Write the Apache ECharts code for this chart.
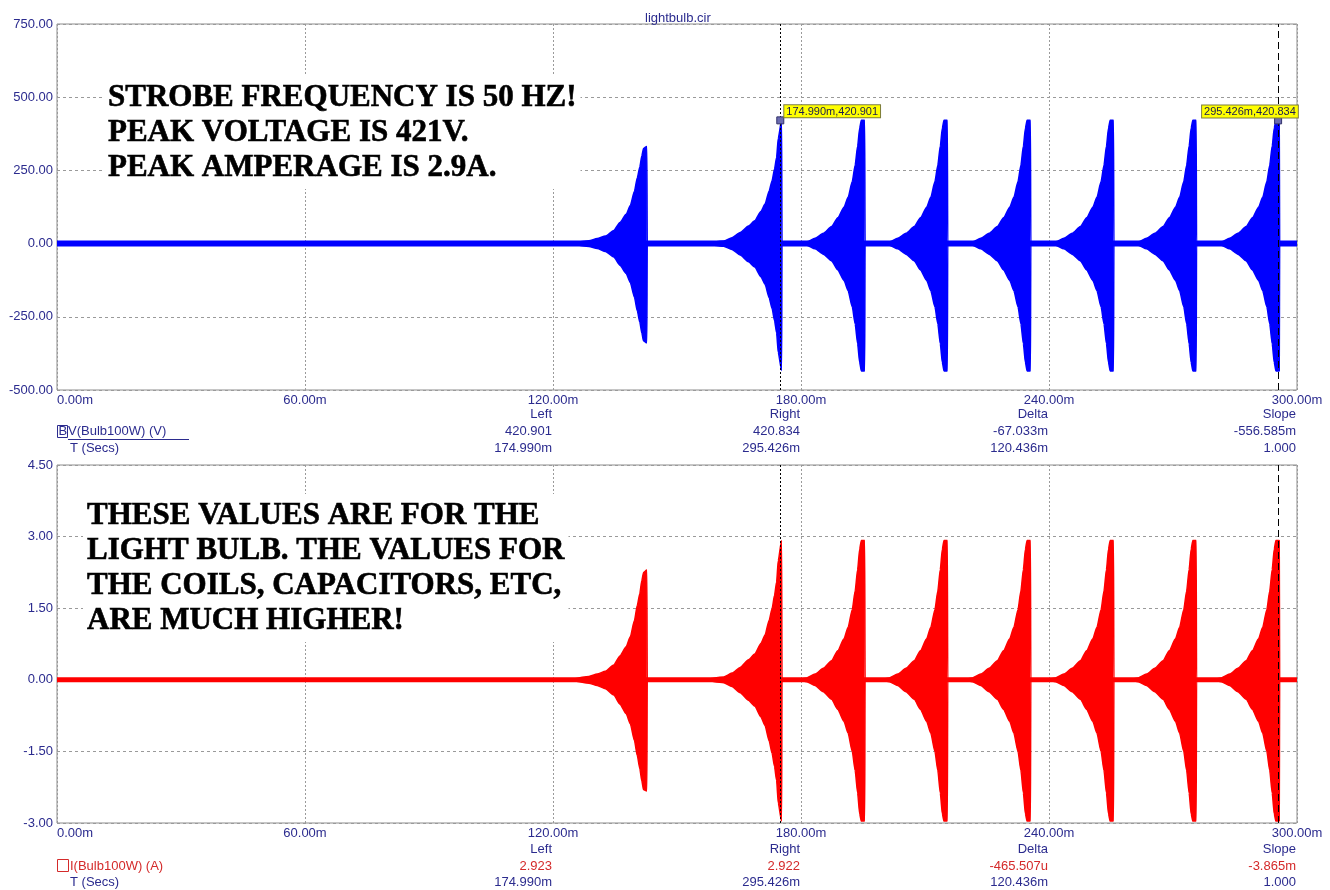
<!DOCTYPE html>
<html>
<head>
<meta charset="utf-8">
<script src="https://cdn.jsdelivr.net/npm/echarts@6/dist/echarts.min.js"></script>
<style>
  html, body { margin: 0; padding: 0; background: #fff; }
  #chart { width: 1330px; height: 890px; }
</style>
</head>
<body>
<div id="chart"></div>
<script>
// time points (ms) of the burst envelopes, 8 bursts, 15 points each
const envTime = [
  124.0, 128.7, 130.7, 132.7, 134.7, 136.2, 137.7, 138.7, 139.7, 140.4, 141.0, 141.5, 141.9, 142.7, 142.8,
  155.8, 161.3, 163.3, 165.3, 167.3, 168.8, 170.3, 171.3, 172.3, 173.0, 173.6, 174.1, 174.5, 175.3, 175.4,
  179.4, 181.4, 183.4, 185.4, 187.4, 188.9, 190.4, 191.4, 192.4, 193.1, 193.7, 194.2, 194.6, 195.4, 195.5,
  199.4, 201.4, 203.4, 205.4, 207.4, 208.9, 210.4, 211.4, 212.4, 213.1, 213.7, 214.2, 214.6, 215.4, 215.5,
  219.5, 221.5, 223.5, 225.5, 227.5, 229.0, 230.5, 231.5, 232.5, 233.2, 233.8, 234.3, 234.7, 235.5, 235.6,
  239.6, 241.6, 243.6, 245.6, 247.6, 249.1, 250.6, 251.6, 252.6, 253.3, 253.9, 254.4, 254.8, 255.6, 255.7,
  259.6, 261.6, 263.6, 265.6, 267.6, 269.1, 270.6, 271.6, 272.6, 273.3, 273.9, 274.4, 274.8, 275.6, 275.7,
  279.7, 281.7, 283.7, 285.7, 287.7, 289.2, 290.7, 291.7, 292.7, 293.4, 294.0, 294.5, 294.9, 295.7, 295.8
];
const voltUpper = [
  0, 10, 17, 26, 45, 72, 100, 130, 179, 225, 262, 300, 325, 332, 0,
  0, 9, 20, 38, 60, 78, 110, 135, 180, 215, 255, 295, 360, 421, 0,
  0, 6, 18, 35, 58, 88, 124, 158, 212, 268, 333, 395, 421, 421, 0,
  0, 6, 18, 35, 58, 88, 124, 158, 212, 268, 333, 395, 421, 421, 0,
  0, 6, 18, 35, 58, 88, 124, 158, 212, 268, 333, 395, 421, 421, 0,
  0, 6, 18, 35, 58, 88, 124, 158, 212, 268, 333, 395, 421, 421, 0,
  0, 6, 18, 35, 58, 88, 124, 158, 212, 268, 333, 395, 421, 421, 0,
  0, 6, 18, 35, 58, 88, 124, 158, 212, 268, 333, 395, 421, 421, 0
];
const voltLower = [
  0, -10, -17, -27, -46, -74, -102, -133, -183, -230, -268, -306, -332, -339, 0,
  0, -9, -20, -39, -62, -80, -113, -139, -185, -222, -263, -305, -372, -433, 0,
  0, -6, -18, -36, -59, -90, -126, -161, -216, -274, -342, -406, -435, -435, 0,
  0, -6, -18, -36, -59, -90, -126, -161, -216, -274, -342, -406, -435, -435, 0,
  0, -6, -18, -36, -59, -90, -126, -161, -216, -274, -342, -406, -435, -435, 0,
  0, -6, -18, -36, -59, -90, -126, -161, -216, -274, -342, -406, -435, -435, 0,
  0, -6, -18, -36, -59, -90, -126, -161, -216, -274, -342, -406, -435, -435, 0,
  0, -6, -18, -36, -59, -90, -126, -161, -216, -274, -342, -406, -435, -435, 0
];
const ampUpper = [
  0, 0.07, 0.12, 0.18, 0.31, 0.5, 0.69, 0.9, 1.24, 1.56, 1.81, 2.08, 2.25, 2.3, 0,
  0, 0.06, 0.14, 0.26, 0.42, 0.54, 0.76, 0.94, 1.25, 1.49, 1.77, 2.05, 2.5, 2.92, 0,
  0, 0.04, 0.12, 0.24, 0.4, 0.61, 0.86, 1.1, 1.47, 1.86, 2.31, 2.74, 2.92, 2.92, 0,
  0, 0.04, 0.12, 0.24, 0.4, 0.61, 0.86, 1.1, 1.47, 1.86, 2.31, 2.74, 2.92, 2.92, 0,
  0, 0.04, 0.12, 0.24, 0.4, 0.61, 0.86, 1.1, 1.47, 1.86, 2.31, 2.74, 2.92, 2.92, 0,
  0, 0.04, 0.12, 0.24, 0.4, 0.61, 0.86, 1.1, 1.47, 1.86, 2.31, 2.74, 2.92, 2.92, 0,
  0, 0.04, 0.12, 0.24, 0.4, 0.61, 0.86, 1.1, 1.47, 1.86, 2.31, 2.74, 2.92, 2.92, 0,
  0, 0.04, 0.12, 0.24, 0.4, 0.61, 0.86, 1.1, 1.47, 1.86, 2.31, 2.74, 2.92, 2.92, 0
];
const ampLower = [
  0, -0.07, -0.12, -0.19, -0.32, -0.51, -0.71, -0.92, -1.27, -1.59, -1.86, -2.12, -2.3, -2.33, 0,
  0, -0.06, -0.14, -0.27, -0.43, -0.55, -0.78, -0.96, -1.28, -1.54, -1.82, -2.11, -2.58, -2.96, 0,
  0, -0.04, -0.12, -0.25, -0.41, -0.62, -0.87, -1.12, -1.5, -1.9, -2.37, -2.81, -2.96, -2.96, 0,
  0, -0.04, -0.12, -0.25, -0.41, -0.62, -0.87, -1.12, -1.5, -1.9, -2.37, -2.81, -2.96, -2.96, 0,
  0, -0.04, -0.12, -0.25, -0.41, -0.62, -0.87, -1.12, -1.5, -1.9, -2.37, -2.81, -2.96, -2.96, 0,
  0, -0.04, -0.12, -0.25, -0.41, -0.62, -0.87, -1.12, -1.5, -1.9, -2.37, -2.81, -2.96, -2.96, 0,
  0, -0.04, -0.12, -0.25, -0.41, -0.62, -0.87, -1.12, -1.5, -1.9, -2.37, -2.81, -2.96, -2.96, 0,
  0, -0.04, -0.12, -0.25, -0.41, -0.62, -0.87, -1.12, -1.5, -1.9, -2.37, -2.81, -2.96, -2.96, 0
];
const traceSpan = [0, 300];

// cursors
const cursorTimes = [174.990, 295.426];
const cursorVolts = [420.901, 420.834];

// readout table under each plot
const colHeads = ['Left', 'Right', 'Delta', 'Slope'];
const colTicks = [120, 180, 240, 300];
const voltReadout = ['420.901', '420.834', '-67.033m', '-556.585m'];
const ampReadout = ['2.923', '2.922', '-465.507u', '-3.865m'];
const timeReadout = ['174.990m', '295.426m', '120.436m', '1.000'];

const notesTop = ['STROBE FREQUENCY IS 50 HZ!', 'PEAK VOLTAGE IS 421V.', 'PEAK AMPERAGE IS 2.9A.'];
const notesBottom = ['THESE VALUES ARE FOR THE', 'LIGHT BULB. THE VALUES FOR', 'THE COILS, CAPACITORS, ETC,', 'ARE MUCH HIGHER!'];

const NAVY = '#2b2b8e';
const RED = '#d42a2a';
const BLUE = '#0000ff';
const FONT = "'Liberation Sans', Arial, sans-serif";

const zip = (xs, ys) => xs.map((x, i) => [x, ys[i]]);

const chart = echarts.init(document.getElementById('chart'));

function xAxisOpt(gi) {
    return {
        type: 'value', gridIndex: gi, min: 0, max: 300, interval: 60,
        axisLine: { show: false }, axisTick: { show: false },
        axisLabel: {
            color: NAVY, fontSize: 13, fontFamily: FONT, margin: 4,
            alignMinLabel: 'left',
            formatter: v => v.toFixed(2) + 'm'
        },
        splitLine: { show: true, lineStyle: { color: '#9a9a9a', type: [2, 2], width: 1 } }
    };
}
function yAxisOpt(gi, min, max, interval) {
    return {
        type: 'value', gridIndex: gi, min, max, interval,
        axisLine: { show: false }, axisTick: { show: false },
        axisLabel: { color: NAVY, fontSize: 13, fontFamily: FONT, margin: 4, formatter: v => v.toFixed(2) },
        splitLine: { show: true, lineStyle: { color: '#9a9a9a', type: [3, 3], width: 1 } }
    };
}

const cursorLines = {
    silent: true, symbol: 'none', animation: false,
    label: { show: false },
    data: [
        { xAxis: cursorTimes[0], lineStyle: { color: '#000', width: 1, type: [2, 2] } },
        { xAxis: cursorTimes[1], lineStyle: { color: '#000', width: 1, type: [7, 4] } }
    ]
};

function envSeries(gi, data, color, extra) {
    return Object.assign({
        type: 'line', xAxisIndex: gi, yAxisIndex: gi, data,
        showSymbol: false, symbol: 'none', z: 3,
        smooth: 0.2, smoothMonotone: 'x',
        lineStyle: { color, width: 1.5 },
        areaStyle: { color, opacity: 1 }
    }, extra || {});
}

const option = {
    animation: false,
    backgroundColor: '#fff',
    title: [
        { text: 'lightbulb.cir', left: 640, top: 7,
          textStyle: { color: NAVY, fontSize: 13, fontWeight: 'normal', fontFamily: FONT } }
    ],
    grid: [
        { left: 57, right: 33, top: 24, height: 366, show: true, borderColor: '#8c8c8c', borderWidth: 1 },
        { left: 57, right: 33, top: 465, height: 358, show: true, borderColor: '#8c8c8c', borderWidth: 1 }
    ],
    xAxis: [xAxisOpt(0), xAxisOpt(1)],
    yAxis: [yAxisOpt(0, -500, 750, 250), yAxisOpt(1, -3, 4.5, 1.5)],
    series: [
        { type: 'line', xAxisIndex: 0, yAxisIndex: 0, data: traceSpan.map(t => [t, 0]),
          symbol: 'none', z: 3, lineStyle: { color: BLUE, width: 6 }, markLine: cursorLines },
        envSeries(0, zip(envTime, voltUpper), BLUE, {
            markPoint: {
                symbol: 'rect', symbolSize: 7, silent: true,
                itemStyle: { color: '#6b6bb0', borderColor: '#33336a', borderWidth: 1 },
                label: {
                    show: true, color: '#1a1a50', fontSize: 11, fontFamily: FONT,
                    backgroundColor: '#ffff00', borderColor: '#7c7c3c', borderWidth: 1, padding: [1, 2, 0, 2]
                },
                data: [
                    { coord: [cursorTimes[0], cursorVolts[0]],
                      label: { position: [8, -11], formatter: cursorTimes[0].toFixed(3) + 'm,' + cursorVolts[0].toFixed(3) } },
                    { coord: [cursorTimes[1], cursorVolts[1]],
                      label: { position: [-72, -11], formatter: cursorTimes[1].toFixed(3) + 'm,' + cursorVolts[1].toFixed(3) } }
                ]
            }
        }),
        envSeries(0, zip(envTime, voltLower), BLUE),
        { type: 'line', xAxisIndex: 1, yAxisIndex: 1, data: traceSpan.map(t => [t, 0]),
          symbol: 'none', z: 3, lineStyle: { color: '#ff0000', width: 5 }, markLine: cursorLines },
        envSeries(1, zip(envTime, ampUpper), '#ff0000'),
        envSeries(1, zip(envTime, ampLower), '#ff0000')
    ]
};
chart.setOption(option);

// readout rows, right aligned on the tick columns
function txt(x, y, text, color, align) {
    return { type: 'text', x, y, silent: true,
        style: { text, fill: color, font: '13px ' + FONT, textAlign: align || 'right', textVerticalAlign: 'middle' } };
}
// big heavy notes on white boxes (thin outline stroke gives the bold look)
function note(x, y, lines) {
    return { type: 'text', x, y, z: 50, silent: true,
        style: {
            text: lines.join('\n'), fill: '#000', stroke: '#000', lineWidth: 0.6,
            font: 'bold 31px "Liberation Serif", "Times New Roman", serif',
            lineHeight: 35, backgroundColor: '#fff', padding: [4, 4]
        } };
}
const gfx = [note(104, 76, notesTop), note(83, 494, notesBottom)];
const blocks = [
    { head: 414, val: 431, time: 448, readout: voltReadout, valColor: NAVY },
    { head: 849, val: 866, time: 882, readout: ampReadout, valColor: RED }
];
blocks.forEach(b => {
    colTicks.forEach((t, i) => {
        const x = chart.convertToPixel({ xAxisIndex: 0 }, t) - 1;
        gfx.push(txt(x, b.head, colHeads[i], NAVY));
        gfx.push(txt(x, b.val, b.readout[i], b.valColor));
        gfx.push(txt(x, b.time, timeReadout[i], NAVY));
    });
    gfx.push(txt(70, b.time, 'T (Secs)', NAVY, 'left'));
});
// trace legends
gfx.push({ type: 'rect', shape: { x: 57.5, y: 425.5, width: 10, height: 12 }, style: { fill: 'none', stroke: NAVY, lineWidth: 1 } });
gfx.push(txt(58.5, 431.5, 'B', NAVY, 'left'));
gfx.push(txt(68, 431, 'V(Bulb100W) (V)', NAVY, 'left'));
gfx.push({ type: 'line', shape: { x1: 68, y1: 439.5, x2: 189, y2: 439.5 }, style: { stroke: NAVY, lineWidth: 1 } });
gfx.push({ type: 'rect', shape: { x: 57.5, y: 859.5, width: 11, height: 12 }, style: { fill: 'none', stroke: RED, lineWidth: 1 } });
gfx.push(txt(70, 866, 'I(Bulb100W) (A)', RED, 'left'));

chart.setOption({ graphic: gfx });
</script>
</body>
</html>
